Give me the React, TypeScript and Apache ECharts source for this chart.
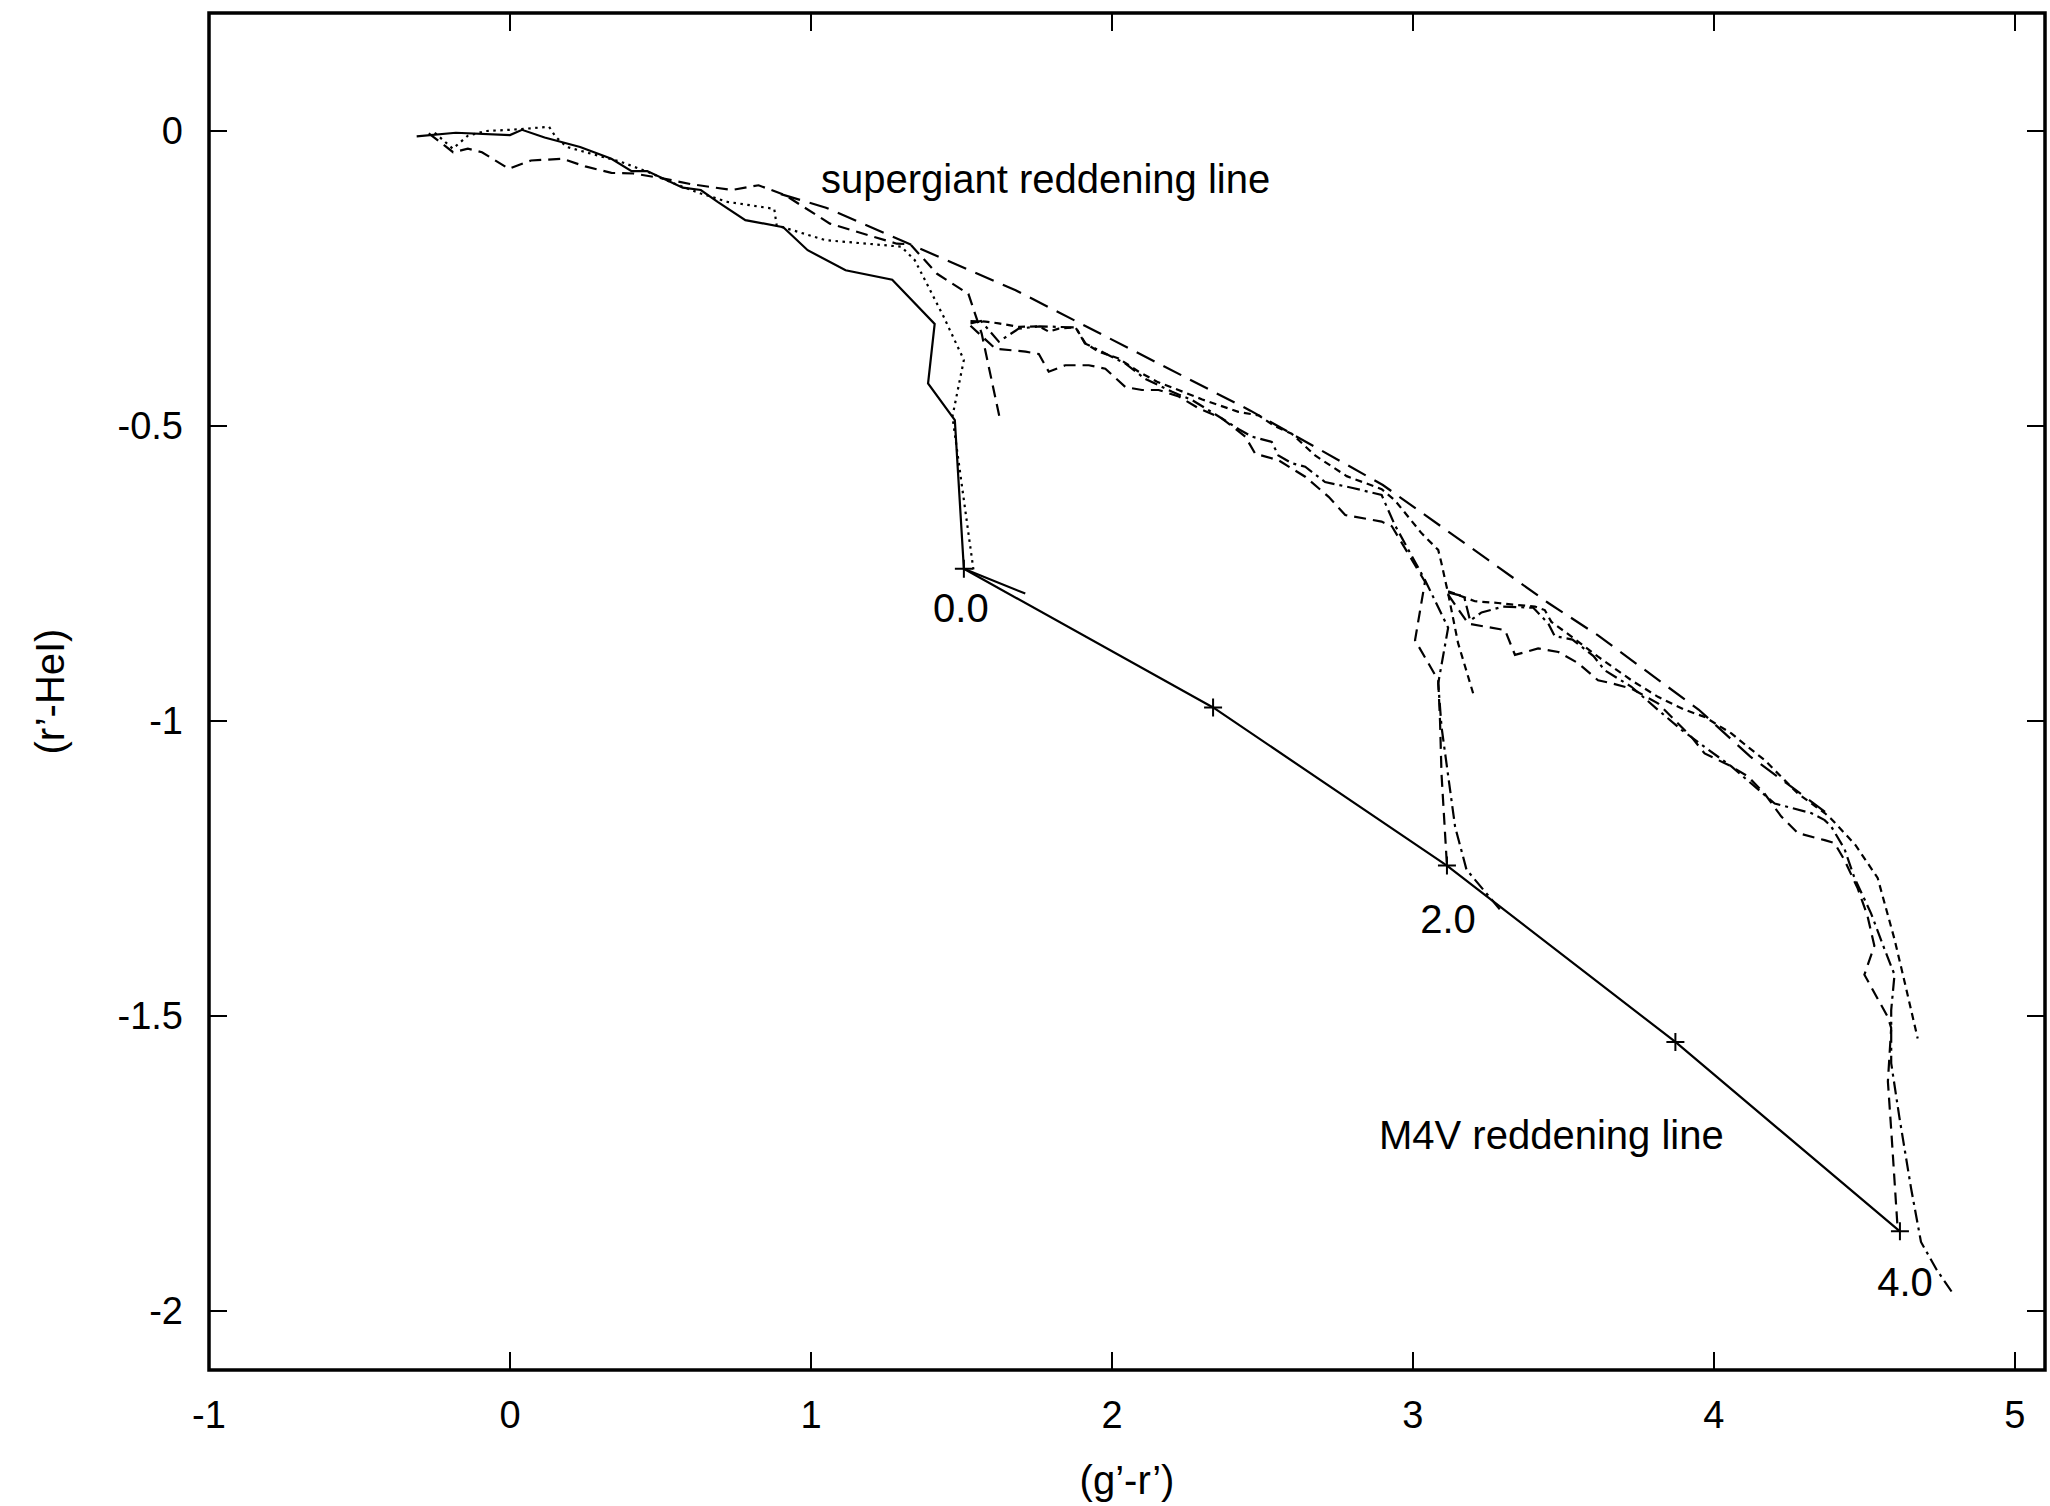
import React, { useEffect, useRef } from "react";
import * as echarts from "echarts";

// Synthetic colour tracks in the (g'-r', r'-HeI) plane.
// Each track is a list of [g'-r', r'-HeI] points.

// E(B-V) = 0
const trackE0Solid: [number, number][] = [
  [-0.31, -0.009], [-0.18, -0.003], [0.0, -0.007], [0.04, 0.002], [0.115, -0.011],
  [0.233, -0.027], [0.337, -0.047], [0.404, -0.068], [0.456, -0.068], [0.574, -0.096],
  [0.634, -0.1], [0.69, -0.12], [0.782, -0.151], [0.908, -0.163], [0.989, -0.202],
  [1.115, -0.236], [1.27, -0.252], [1.411, -0.327], [1.389, -0.428], [1.478, -0.49],
  [1.508, -0.742], [1.712, -0.784],
];
const trackE0Dotted: [number, number][] = [
  [-0.25, -0.003], [-0.19, -0.03], [-0.14, -0.008], [-0.08, 0.0], [0.0, 0.002],
  [0.08, 0.005], [0.13, 0.007], [0.152, -0.01], [0.189, -0.027], [0.28, -0.04],
  [0.367, -0.052], [0.456, -0.069], [0.55, -0.09], [0.634, -0.106], [0.722, -0.12],
  [0.878, -0.132], [0.886, -0.16], [1.048, -0.185], [1.3, -0.196], [1.345, -0.219],
  [1.441, -0.315], [1.508, -0.388], [1.47, -0.484], [1.541, -0.748],
];
const trackE0Dashed: [number, number][] = [
  [-0.27, -0.004], [-0.189, -0.036], [-0.14, -0.03], [-0.093, -0.036], [-0.004, -0.064],
  [0.07, -0.05], [0.174, -0.047], [0.25, -0.06], [0.337, -0.071], [0.41, -0.072],
  [0.515, -0.081], [0.6, -0.09], [0.737, -0.1], [0.826, -0.092], [0.915, -0.109],
  [1.063, -0.157], [1.285, -0.191], [1.33, -0.192], [1.419, -0.242], [1.523, -0.276],
  [1.567, -0.343], [1.626, -0.484],
];

// E(B-V) = 2
const trackE2DashDot: [number, number][] = [
  [1.53, -0.326], [1.565, -0.322], [1.624, -0.357], [1.69, -0.335], [1.76, -0.331],
  [1.88, -0.333], [1.91, -0.36], [1.978, -0.377], [2.044, -0.394], [2.11, -0.42],
  [2.2, -0.442], [2.266, -0.456], [2.343, -0.48], [2.42, -0.505], [2.465, -0.518],
  [2.531, -0.527], [2.553, -0.55], [2.597, -0.563], [2.642, -0.569], [2.708, -0.595],
  [2.8, -0.605], [2.896, -0.617], [2.94, -0.668], [3.04, -0.761], [3.117, -0.842],
  [3.084, -0.936], [3.095, -1.01], [3.14, -1.179], [3.178, -1.252], [3.29, -1.32],
];
const trackE2Dashed: [number, number][] = [
  [1.53, -0.33], [1.613, -0.369], [1.713, -0.374], [1.757, -0.378], [1.79, -0.408],
  [1.845, -0.397], [1.923, -0.397], [1.978, -0.403], [2.045, -0.434], [2.1, -0.439],
  [2.155, -0.439], [2.222, -0.45], [2.288, -0.47], [2.365, -0.487], [2.443, -0.518],
  [2.476, -0.547], [2.553, -0.558], [2.642, -0.586], [2.72, -0.62], [2.775, -0.651],
  [2.896, -0.662], [2.93, -0.67], [3.04, -0.764], [3.007, -0.863], [3.084, -0.931],
  [3.09, -1.0], [3.095, -1.09], [3.113, -1.245],
];
const trackE2Short: [number, number][] = [
  [1.53, -0.322], [1.58, -0.323], [1.624, -0.326], [1.69, -0.332], [1.757, -0.331],
  [1.79, -0.34], [1.823, -0.335], [1.879, -0.333], [1.912, -0.36], [1.956, -0.374],
  [2.02, -0.385], [2.089, -0.408], [2.15, -0.425], [2.221, -0.439], [2.3, -0.455],
  [2.42, -0.476], [2.487, -0.482], [2.54, -0.5], [2.597, -0.513], [2.675, -0.55],
  [2.78, -0.585], [2.896, -0.607], [2.94, -0.626], [3.029, -0.682], [3.084, -0.71],
  [3.095, -0.733], [3.117, -0.784], [3.15, -0.868], [3.2, -0.953],
];

// E(B-V) = 4
const trackE4DashDot: [number, number][] = [
  [3.117, -0.782], [3.17, -0.789], [3.19, -0.83], [3.228, -0.816], [3.3, -0.806],
  [3.4, -0.808], [3.45, -0.835], [3.471, -0.856], [3.53, -0.862], [3.6, -0.89],
  [3.637, -0.914], [3.726, -0.942], [3.814, -0.981], [3.892, -1.015], [3.969, -1.044],
  [4.058, -1.077], [4.124, -1.106], [4.202, -1.14], [4.323, -1.156], [4.368, -1.168],
  [4.39, -1.179], [4.434, -1.217], [4.467, -1.266], [4.522, -1.326], [4.567, -1.387],
  [4.6, -1.43], [4.589, -1.49], [4.589, -1.58], [4.616, -1.671], [4.655, -1.792],
  [4.688, -1.883], [4.74, -1.93], [4.799, -1.974],
];
const trackE4Dashed: [number, number][] = [
  [3.117, -0.786], [3.184, -0.835], [3.306, -0.846], [3.339, -0.888], [3.416, -0.877],
  [3.483, -0.883], [3.549, -0.902], [3.615, -0.931], [3.66, -0.936], [3.726, -0.945],
  [3.814, -0.97], [3.925, -1.027], [3.969, -1.055], [4.058, -1.077], [4.113, -1.094],
  [4.168, -1.123], [4.224, -1.162], [4.279, -1.19], [4.368, -1.202], [4.401, -1.207],
  [4.434, -1.236], [4.478, -1.284], [4.51, -1.33], [4.533, -1.381], [4.5, -1.43],
  [4.578, -1.502], [4.589, -1.52], [4.578, -1.611], [4.59, -1.7], [4.611, -1.865],
];
const trackE4Short: [number, number][] = [
  [3.117, -0.78], [3.206, -0.797], [3.283, -0.8], [3.339, -0.803], [3.405, -0.806],
  [3.438, -0.812], [3.46, -0.832], [3.527, -0.857], [3.615, -0.891], [3.726, -0.931],
  [3.814, -0.959], [3.903, -0.981], [3.969, -0.993], [4.058, -1.021], [4.113, -1.044],
  [4.168, -1.066], [4.279, -1.123], [4.368, -1.156], [4.39, -1.166], [4.47, -1.21],
  [4.544, -1.266], [4.6, -1.37], [4.633, -1.441], [4.677, -1.538],
];

// Supergiant reddening line
const supergiantLine: [number, number][] = [
  [0.9, -0.107], [1.05, -0.13], [1.32, -0.19], [1.68, -0.27], [1.91, -0.33],
  [2.46, -0.474], [2.9, -0.6], [3.25, -0.727], [3.45, -0.8], [3.615, -0.855],
  [3.95, -0.981], [4.12, -1.06], [4.24, -1.105], [4.38, -1.158],
];

// M4V reddening line, marked at E(B-V) = 0..4
const m4vEbv = [0, 1, 2, 3, 4];
const m4vGR = [1.508, 2.336, 3.113, 3.872, 4.618];
const m4vRHe = [-0.742, -0.977, -1.245, -1.544, -1.865];
const labelledEbv = [0, 2, 4];

const xMin = -1;
const xMax = 5.1;
const yMin = -2.1;
const yMax = 0.2;

const FONT = '"Liberation Sans", Arial, Helvetica, sans-serif';

// label placement below each marked point (pixels)
const ebvLabelOffset: Record<number, [number, number]> = {
  0: [-3, 39],
  2: [1, 53],
  4: [5, 51],
};

function track(data: [number, number][], type: any) {
  return {
    type: "line",
    data,
    xAxisIndex: 0,
    yAxisIndex: 0,
    symbol: "none",
    showSymbol: false,
    silent: true,
    lineStyle: { color: "#000", width: 2.2, type, cap: "butt", join: "miter" },
    z: 3,
  };
}

export default function App() {
  const ref = useRef<HTMLDivElement>(null);

  useEffect(() => {
    if (!ref.current) return;
    const chart = echarts.init(ref.current, undefined, { renderer: "svg" });

    const tickStyle = { inside: true, length: 18, lineStyle: { color: "#000", width: 2 } };
    const hiddenLine = { show: false, onZero: false };

    const xLabel = (v: number) => (Math.abs(v - Math.round(v)) < 1e-6 ? String(Math.round(v)) : "");
    const yLabel = (v: number) => {
      const r = Math.round(v * 2) / 2;
      if (Math.abs(v - r) > 1e-6) return "";
      return r === 0 ? "0" : String(r);
    };

    const m4vData = m4vEbv.map((e, i) => {
      const item: any = { value: [m4vGR[i], m4vRHe[i]] };
      if (labelledEbv.includes(e)) {
        item.label = {
          show: true,
          formatter: e.toFixed(1),
          position: "inside",
          offset: ebvLabelOffset[e],
          color: "#000",
          fontSize: 40,
          fontFamily: FONT,
        };
      }
      return item;
    });

    chart.setOption({
      animation: false,
      backgroundColor: "#fff",
      grid: {
        left: 209,
        right: 5,
        top: 13,
        bottom: 136,
        show: true,
        borderColor: "#000",
        borderWidth: 3.5,
        backgroundColor: "transparent",
      },
      xAxis: [
        {
          type: "value",
          min: xMin,
          max: xMax,
          interval: 1,
          position: "bottom",
          axisLine: hiddenLine,
          axisTick: tickStyle,
          splitLine: { show: false },
          axisLabel: { formatter: xLabel, color: "#000", fontSize: 38, fontFamily: FONT, margin: 26 },
          name: "(g\u2019-r\u2019)",
          nameLocation: "middle",
          nameGap: 90,
          nameTextStyle: { color: "#000", fontSize: 40, fontFamily: FONT },
        },
        {
          type: "value",
          min: xMin,
          max: xMax,
          interval: 1,
          position: "top",
          axisLine: hiddenLine,
          axisTick: tickStyle,
          splitLine: { show: false },
          axisLabel: { show: false },
        },
      ],
      yAxis: [
        {
          type: "value",
          min: yMin,
          max: yMax,
          splitNumber: 5,
          position: "left",
          axisLine: hiddenLine,
          axisTick: tickStyle,
          splitLine: { show: false },
          axisLabel: { formatter: yLabel, color: "#000", fontSize: 38, fontFamily: FONT, margin: 26 },
          name: "(r\u2019-HeI)",
          nameLocation: "middle",
          nameGap: 139,
          nameTextStyle: { color: "#000", fontSize: 40, fontFamily: FONT },
        },
        {
          type: "value",
          min: yMin,
          max: yMax,
          splitNumber: 5,
          position: "right",
          axisLine: hiddenLine,
          axisTick: tickStyle,
          splitLine: { show: false },
          axisLabel: { show: false },
        },
      ],
      graphic: [
        {
          type: "text",
          x: 821,
          y: 179,
          style: {
            text: "supergiant reddening line",
            fill: "#000",
            fontSize: 40,
            fontFamily: FONT,
            align: "left",
            verticalAlign: "middle",
          },
        },
        {
          type: "text",
          x: 1379,
          y: 1135,
          style: {
            text: "M4V reddening line",
            fill: "#000",
            fontSize: 40,
            fontFamily: FONT,
            align: "left",
            verticalAlign: "middle",
          },
        },
      ],
      series: [
        track(trackE0Solid, "solid"),
        track(trackE0Dotted, [2.5, 4.5]),
        track(trackE0Dashed, [12, 7]),
        track(trackE2DashDot, [13, 5, 3, 5]),
        track(trackE2Dashed, [12, 7]),
        track(trackE2Short, [7, 5]),
        track(trackE4DashDot, [13, 5, 3, 5]),
        track(trackE4Dashed, [12, 7]),
        track(trackE4Short, [7, 5]),
        track(supergiantLine, [20, 10]),
        {
          type: "line",
          data: m4vData,
          xAxisIndex: 0,
          yAxisIndex: 0,
          symbol: "path://M0,-10L0,10M-10,0L10,0",
          symbolSize: 18,
          showSymbol: true,
          silent: true,
          itemStyle: { color: "#000", borderColor: "#000", borderWidth: 2 },
          lineStyle: { color: "#000", width: 2.2, type: "solid" },
          z: 4,
        },
      ],
    });

    return () => chart.dispose();
  }, []);

  return (
    <div
      ref={ref}
      style={{ position: "absolute", left: 0, top: 0, width: 2050, height: 1506 }}
    />
  );
}
